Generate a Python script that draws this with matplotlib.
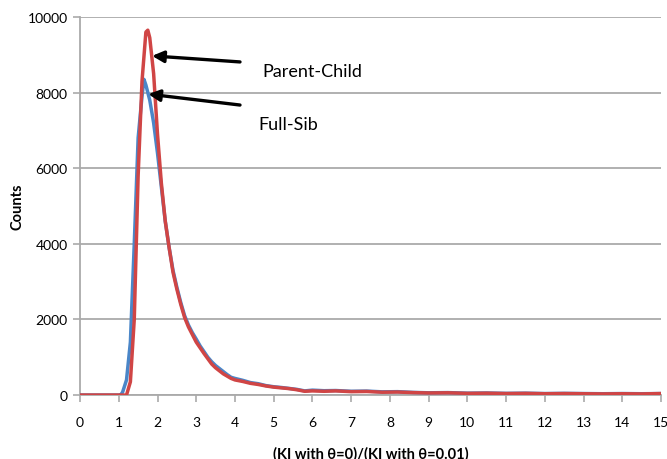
import matplotlib
matplotlib.use("Agg")
import matplotlib.pyplot as plt

plt.rcParams['font.family'] = ['Lato', 'DejaVu Sans']

# ---- data ----
x_red = [0, 0.5, 1.0, 1.1, 1.2, 1.3, 1.4, 1.5, 1.6, 1.7, 1.75, 1.8, 1.9, 2.0, 2.1,
         2.2, 2.3, 2.4, 2.5, 2.6, 2.7, 2.8, 2.9, 3.0, 3.1, 3.2, 3.3, 3.4, 3.5,
         3.6, 3.7, 3.8, 3.9, 4.0, 4.2, 4.4, 4.6, 4.8, 5.0, 5.2, 5.4, 5.6, 5.8,
         6.0, 6.3, 6.6, 7.0, 7.4, 7.8, 8.2, 8.6, 9.0, 9.5, 10.0, 10.5, 11.0,
         11.5, 12.0, 12.5, 13.0, 13.5, 14.0, 14.5, 15.0]
y_red = [0, 0, 0, 0, 0, 350, 2000, 5800, 8300, 9600, 9650, 9450, 8500, 6900, 5600,
         4600, 3900, 3250, 2800, 2400, 2050, 1800, 1600, 1400, 1250, 1100, 960, 820, 720,
         640, 560, 500, 440, 400, 360, 310, 280, 240, 210, 190, 170, 140, 100,
         110, 100, 110, 90, 95, 75, 80, 65, 55, 60, 45, 50, 40, 45, 35, 40, 35, 30, 35, 30, 40]

x_blue = [0, 0.5, 1.0, 1.05, 1.1, 1.2, 1.3, 1.4, 1.5, 1.6, 1.65, 1.7, 1.8, 1.9, 2.0,
          2.1, 2.2, 2.3, 2.4, 2.5, 2.6, 2.7, 2.8, 2.9, 3.0, 3.1, 3.2, 3.3, 3.4,
          3.5, 3.6, 3.7, 3.8, 3.9, 4.0, 4.2, 4.4, 4.6, 4.8, 5.0, 5.2, 5.4, 5.6,
          5.8, 6.0, 6.3, 6.6, 7.0, 7.4, 7.8, 8.2, 8.6, 9.0, 9.5, 10.0, 10.5,
          11.0, 11.5, 12.0, 12.5, 13.0, 13.5, 14.0, 14.5, 15.0]
y_blue = [0, 0, 0, 0, 80, 400, 1400, 4000, 6800, 7900, 8350, 8200, 7800, 7200, 6400,
          5500, 4600, 3900, 3300, 2850, 2450, 2100, 1850, 1650, 1480, 1300, 1150, 1000, 880,
          780, 700, 620, 540, 470, 440, 390, 330, 300, 250, 220, 200, 175, 150,
          110, 130, 115, 120, 100, 105, 85, 90, 70, 60, 65, 50, 55, 45, 50, 40, 45, 40, 35, 40, 35, 40]

x_ticks = list(range(0, 16))
y_ticks = [0, 2000, 4000, 6000, 8000, 10000]

fig = plt.figure(figsize=(6.67, 4.6), dpi=100)
ax = fig.add_axes([0.12, 0.139, 0.871, 0.822])

ax.plot(x_blue, y_blue, color='#4A86C8', lw=2.5, solid_joinstyle='round', zorder=3)
ax.plot(x_red, y_red, color='#D04545', lw=2.5, solid_joinstyle='round', zorder=4)

ax.set_xlim(0, 15)
ax.set_ylim(0, 10000)
ax.set_xticks(x_ticks)
ax.set_yticks(y_ticks)
ax.grid(axis='y', color='#AAAAAA', lw=1.3)
ax.set_axisbelow(True)
for s in ['top', 'right']:
    ax.spines[s].set_visible(False)
for s in ['left', 'bottom']:
    ax.spines[s].set_color('#AAAAAA')
    ax.spines[s].set_linewidth(1.3)
ax.tick_params(axis='both', colors='#AAAAAA', length=5, width=1.2, labelsize=10,
               labelcolor='black')
ax.tick_params(axis='x', pad=10)
ax.tick_params(axis='y', pad=4)

ax.set_ylabel('Counts', fontsize=10.5, fontweight='bold', labelpad=2)
ax.set_xlabel('(KI with θ=0)/(KI with θ=0.01)', fontsize=10.5, fontweight='bold', labelpad=13)

ax.annotate('', xy=(1.86, 8970), xytext=(4.13, 8810),
            arrowprops=dict(arrowstyle='-|>', color='black', lw=2.4,
                            mutation_scale=17, shrinkA=0, shrinkB=0), zorder=5)
ax.annotate('', xy=(1.76, 7960), xytext=(4.13, 7670),
            arrowprops=dict(arrowstyle='-|>', color='black', lw=2.4,
                            mutation_scale=17, shrinkA=0, shrinkB=0), zorder=5)
ax.text(4.70, 8570, 'Parent-Child', fontsize=13, va='center', ha='left')
ax.text(4.60, 7170, 'Full-Sib', fontsize=13, va='center', ha='left')

fig.savefig('out.png', dpi=100)
